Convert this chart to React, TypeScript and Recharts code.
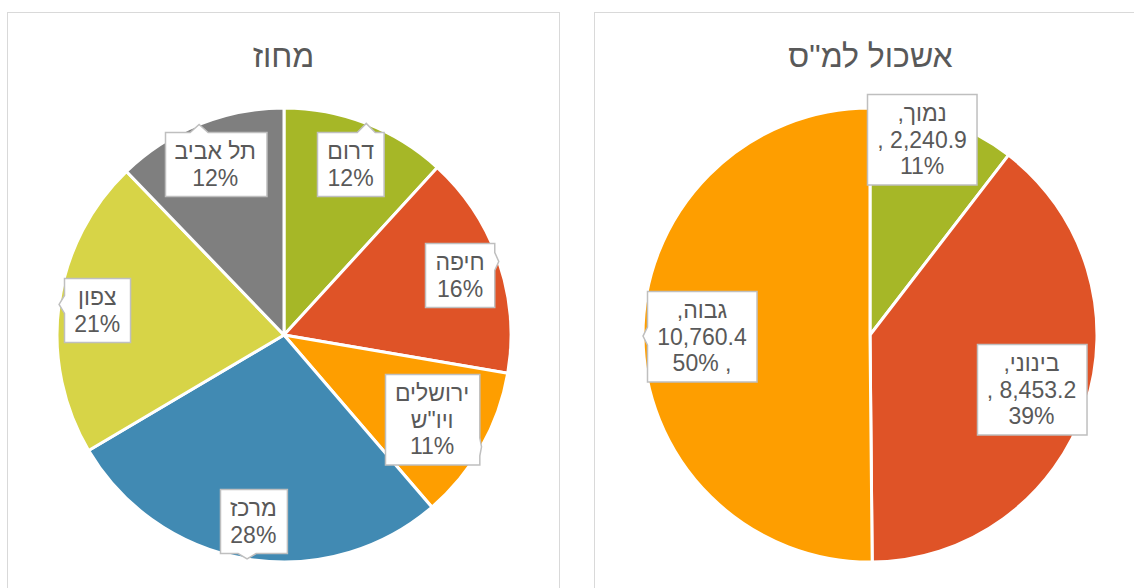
import React from "react";
import { PieChart, Pie, Cell } from "recharts";

// --- data ---
const DISTRICTS = ["דרום", "חיפה", 'ירושלים ויו"ש', "מרכז", "צפון", "תל אביב"];
const DISTRICT_SHARE = [11.8, 15.9, 11.0, 27.8, 21.3, 12.2];

const CLUSTERS = ["נמוך", "בינוני", "גבוה"];
const CLUSTER_VALUES = [2240.9, 8453.2, 10760.4];
const CLUSTER_PCT = [11, 39, 50];

const LEFT_TITLE = "מחוז";
const RIGHT_TITLE = 'אשכול למ"ס';

// --- styles / layout ---
const DISTRICT_COLORS = ["#A6B727", "#DF5327", "#FE9E00", "#418AB3", "#D7D447", "#7F7F7F"];
const CLUSTER_COLORS = ["#A6B727", "#DF5327", "#FE9E00"];
const TEXT = "#595959";
const FONT = '"Liberation Sans", Arial, sans-serif';
const FS = 23;
const LINE_H = 26.5;
const PAD_X = 10;
const PAD_Y = 5.5;
const RADIUS = 227;
const NO_MARGIN = { top: 0, right: 0, bottom: 0, left: 0 };

// label distance from centre as a fraction of radius, plus nudges (Excel "best fit")
const LEFT_LABEL_K = [0.81, 0.82, 0.75, 0.83, 0.83, 0.81];
const RIGHT_LABEL_K = [0.89, 0.75, 0.74];
const RIGHT_LABEL_NUDGE: [number, number][] = [[-13, -4], [0, 0], [0, 0]];
// whether the ", " separator falls after the value line or before the percent line
const RIGHT_COMMA_AFTER_VALUE = [true, true, false];

const RAD = Math.PI / 180;
const RLM = "\u200F";

const districtData = DISTRICTS.map((name, i) => ({ name, value: DISTRICT_SHARE[i] }));
const clusterData = CLUSTERS.map((name, i) => ({ name, value: CLUSTER_VALUES[i] }));

let ctx: CanvasRenderingContext2D | null = null;
function measure(s: string) {
  if (!ctx) {
    ctx = document.createElement("canvas").getContext("2d");
  }
  if (!ctx) return s.length * FS * 0.55;
  ctx.font = `${FS}px ${FONT}`;
  return ctx.measureText(s).width;
}

const fmt = (v: number) =>
  v.toLocaleString("en-US", { minimumFractionDigits: 1, maximumFractionDigits: 1 });

// rectangle with a small wedge pointing to (tx, ty) when it lies outside
function calloutPath(x0: number, y0: number, x1: number, y1: number, tx: number, ty: number) {
  const ox = tx < x0 ? x0 - tx : tx > x1 ? tx - x1 : 0;
  const oy = ty < y0 ? y0 - ty : ty > y1 ? ty - y1 : 0;
  const half = 9;
  const cl = (v: number, a: number, b: number) => Math.max(a + half + 2, Math.min(b - half - 2, v));
  if (ox === 0 && oy === 0) {
    return `M${x0},${y0}H${x1}V${y1}H${x0}Z`;
  }
  if (oy >= ox) {
    const bx = cl(tx, x0, x1);
    if (ty < y0) {
      return `M${x0},${y0}H${bx - half}L${tx},${ty}L${bx + half},${y0}H${x1}V${y1}H${x0}Z`;
    }
    return `M${x0},${y0}H${x1}V${y1}H${bx + half}L${tx},${ty}L${bx - half},${y1}H${x0}Z`;
  }
  const by = cl(ty, y0, y1);
  if (tx > x1) {
    return `M${x0},${y0}H${x1}V${by - half}L${tx},${ty}L${x1},${by + half}V${y1}H${x0}Z`;
  }
  return `M${x0},${y0}H${x1}V${y1}H${x0}V${by + half}L${tx},${ty}L${x0},${by - half}Z`;
}

type Line = { text: string; rtl: boolean };

function makeLabel(getLines: (i: number, percent: number) => Line[], ks: number[], nudges?: [number, number][]) {
  return (p: any) => {
    const { cx, cy, midAngle, outerRadius, index, percent } = p;
    const cos = Math.cos(-midAngle * RAD);
    const sin = Math.sin(-midAngle * RAD);
    const [ndx, ndy] = nudges ? nudges[index] : [0, 0];
    const lx = cx + outerRadius * ks[index] * cos + ndx;
    const ly = cy + outerRadius * ks[index] * sin + ndy;
    const tx = cx + outerRadius * cos;
    const ty = cy + outerRadius * sin;
    const lines = getLines(index, percent);
    const w = Math.max(...lines.map((l) => measure(l.text))) + PAD_X * 2;
    const h = lines.length * LINE_H + PAD_Y * 2;
    const x0 = Math.round(lx - w / 2) + 0.5;
    const y0 = Math.round(ly - h / 2) + 0.5;
    return (
      <g key={`lbl-${index}`}>
        <path d={calloutPath(x0, y0, x0 + w, y0 + h, tx, ty)} fill="#fff" stroke="#BFBFBF" strokeWidth={1.5} />
        {lines.map((l, j) => (
          <text
            key={j}
            x={lx}
            y={y0 + PAD_Y + LINE_H * (j + 0.5)}
            textAnchor="middle"
            dominantBaseline="central"
            fill={TEXT}
            fontSize={FS}
            fontFamily={FONT}
          >
            {l.text}
          </text>
        ))}
      </g>
    );
  };
}

const districtLines = (i: number, percent: number): Line[] => {
  const name = DISTRICTS[i];
  const nameLines = name.length > 8 ? name.split(" ") : [name];
  return [
    ...nameLines.map((t) => ({ text: t, rtl: true })),
    { text: `${Math.round(percent * 100)}%`, rtl: false },
  ];
};

const clusterLines = (i: number): Line[] => {
  const after = RIGHT_COMMA_AFTER_VALUE[i];
  return [
    { text: `${CLUSTERS[i]},${RLM}`, rtl: true },
    { text: after ? `, ${fmt(CLUSTER_VALUES[i])}` : fmt(CLUSTER_VALUES[i]), rtl: false },
    { text: after ? `${CLUSTER_PCT[i]}%` : `${CLUSTER_PCT[i]}% ,`, rtl: false },
  ];
};

const boxStyle = (left: number): React.CSSProperties => ({
  position: "absolute",
  left,
  top: 12,
  width: 553,
  height: 620,
  border: "1.5px solid #D9D9D9",
  boxSizing: "border-box",
});

const titleStyle = (left: number): React.CSSProperties => ({
  position: "absolute",
  left,
  top: 36,
  width: 567,
  textAlign: "center",
  fontFamily: FONT,
  fontSize: 32,
  lineHeight: "40px",
  color: TEXT,
  direction: "rtl",
});

export default function App() {
  return (
    <div
      style={{
        position: "absolute",
        left: 0,
        top: 0,
        width: 1134,
        height: 588,
        overflow: "hidden",
        background: "#fff",
      }}
    >
      <div style={boxStyle(7)} />
      <div style={boxStyle(594)} />
      <div style={titleStyle(0)}>{LEFT_TITLE}</div>
      <div style={titleStyle(587)}>{RIGHT_TITLE}</div>

      <div style={{ position: "absolute", left: 0, top: 0 }}>
        <PieChart width={567} height={588} margin={NO_MARGIN}>
          <Pie
            data={districtData}
            dataKey="value"
            nameKey="name"
            cx={284}
            cy={335}
            outerRadius={RADIUS}
            startAngle={90}
            endAngle={-270}
            stroke="#fff"
            strokeWidth={3}
            labelLine={false}
            label={makeLabel(districtLines, LEFT_LABEL_K)}
            isAnimationActive={false}
          >
            {districtData.map((d, i) => (
              <Cell key={d.name} fill={DISTRICT_COLORS[i]} />
            ))}
          </Pie>
        </PieChart>
      </div>

      <div style={{ position: "absolute", left: 567, top: 0 }}>
        <PieChart width={567} height={588} margin={NO_MARGIN}>
          <Pie
            data={clusterData}
            dataKey="value"
            nameKey="name"
            cx={303}
            cy={335}
            outerRadius={RADIUS}
            startAngle={90}
            endAngle={-270}
            stroke="#fff"
            strokeWidth={3}
            labelLine={false}
            label={makeLabel((i) => clusterLines(i), RIGHT_LABEL_K, RIGHT_LABEL_NUDGE)}
            isAnimationActive={false}
          >
            {clusterData.map((d, i) => (
              <Cell key={d.name} fill={CLUSTER_COLORS[i]} />
            ))}
          </Pie>
        </PieChart>
      </div>
    </div>
  );
}
